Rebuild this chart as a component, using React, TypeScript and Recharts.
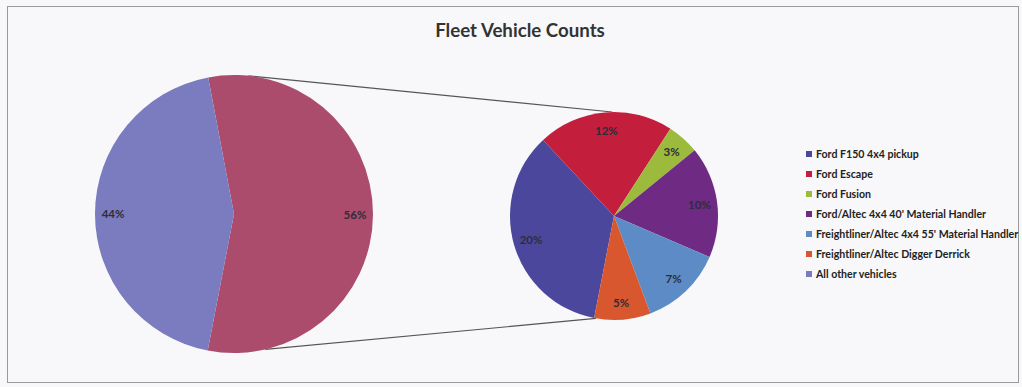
import { PieChart, Pie, Cell, Legend } from "recharts";

// shares of the whole fleet, in percent
const vehicleTypes = [
  "Ford F150 4x4 pickup",
  "Ford Escape",
  "Ford Fusion",
  "Ford/Altec 4x4 40' Material Handler",
  "Freightliner/Altec 4x4 55' Material Handler",
  "Freightliner/Altec Digger Derrick",
];
const vehicleShares = [19.6, 11.8, 2.8, 9.7, 7.2, 4.9];
const otherName = "All other vehicles";
const otherShare = 44;

const splitColors = ["#4b479c", "#c31f3d", "#9cbb3d", "#6f2a84", "#5c8bc6", "#d8572e"];
const mainColors = ["#ab4c6c", "#7b7bbf"];

const FONT = "Lato, 'Open Sans', sans-serif";
const RAD = Math.PI / 180;

const MAIN = { cx: 234, cy: 214, r: 139 };
const SUB = { cx: 614, cy: 216, r: 104 };

const splitData = vehicleTypes.map((name, i) => ({ name, value: vehicleShares[i] }));
const splitTotal = vehicleShares.reduce((a, b) => a + b, 0);
const mainData = [
  { name: "Other", value: splitTotal },
  { name: otherName, value: otherShare },
];
const total = splitTotal + otherShare;

const legendItems = [
  ...vehicleTypes.map((name, i) => ({ name, color: splitColors[i] })),
  { name: otherName, color: mainColors[1] },
];

const mainStart = 100.7;
const subStart = 259;

const pt = (c: { cx: number; cy: number; r: number }, deg: number) => ({
  x: c.cx + c.r * Math.cos(deg * RAD),
  y: c.cy - c.r * Math.sin(deg * RAD),
});

const makeLabel = (factor: number) => (props: any) => {
  const { cx, cy, midAngle, outerRadius, value } = props;
  const r = outerRadius * factor;
  const x = cx + r * Math.cos(-midAngle * RAD);
  const y = cy + r * Math.sin(-midAngle * RAD);
  return (
    <text x={x} y={y} textAnchor="middle" dominantBaseline="central" fill="#2d2d3a"
      fontFamily={FONT} fontWeight="bold" fontSize={11.5}>
      {Math.round((value / total) * 100)}%
    </text>
  );
};

const LegendList = () => (
  <div style={{ fontFamily: FONT, fontWeight: "bold", fontSize: 10.6, color: "#222" }}>
    {legendItems.map((it) => (
      <div key={it.name} style={{ height: 20, display: "flex", alignItems: "center", whiteSpace: "nowrap" }}>
        <span style={{ width: 6, height: 6, background: it.color, marginRight: 4, display: "inline-block" }} />
        {it.name}
      </div>
    ))}
  </div>
);

export default function App() {
  const topA = pt(MAIN, 84);
  const topB = pt(SUB, 91);
  const botA = pt(MAIN, -77);
  const botB = pt(SUB, -100);
  return (
    <div style={{ position: "absolute", left: 0, top: 0, width: 1022, height: 387, background: "#f8f8fa" }}>
      <div style={{ position: "absolute", left: 7, top: 6, width: 1012, height: 377, border: "1px solid #9a9a9a", boxSizing: "border-box" }} />
      <PieChart width={1022} height={387} margin={{ top: 0, right: 0, bottom: 0, left: 0 }}>
        <text x={520} y={30} textAnchor="middle" dominantBaseline="central" fontFamily={FONT}
          fontWeight="bold" fontSize={18.7} fill="#333">
          Fleet Vehicle Counts
        </text>
        <line x1={topA.x} y1={topA.y} x2={topB.x} y2={topB.y} stroke="#555" strokeWidth={1.2} />
        <line x1={botA.x} y1={botA.y} x2={botB.x} y2={botB.y} stroke="#555" strokeWidth={1.2} />
        <Pie data={mainData} dataKey="value" nameKey="name" cx={MAIN.cx} cy={MAIN.cy} outerRadius={MAIN.r}
          startAngle={mainStart} endAngle={mainStart - 360} stroke="none" labelLine={false}
          label={makeLabel(0.87)} isAnimationActive={false}>
          {mainData.map((d, i) => <Cell key={d.name} fill={mainColors[i]} />)}
        </Pie>
        <Pie data={splitData} dataKey="value" nameKey="name" cx={SUB.cx} cy={SUB.cy} outerRadius={SUB.r}
          startAngle={subStart} endAngle={subStart - 360} stroke="none" labelLine={false}
          label={makeLabel(0.83)} isAnimationActive={false}>
          {splitData.map((d, i) => <Cell key={d.name} fill={splitColors[i]} />)}
        </Pie>
        <Legend layout="vertical" align="right" verticalAlign="middle" content={<LegendList />}
          wrapperStyle={{ left: 806, top: 144, right: "auto", width: 216 }} />
      </PieChart>
    </div>
  );
}
